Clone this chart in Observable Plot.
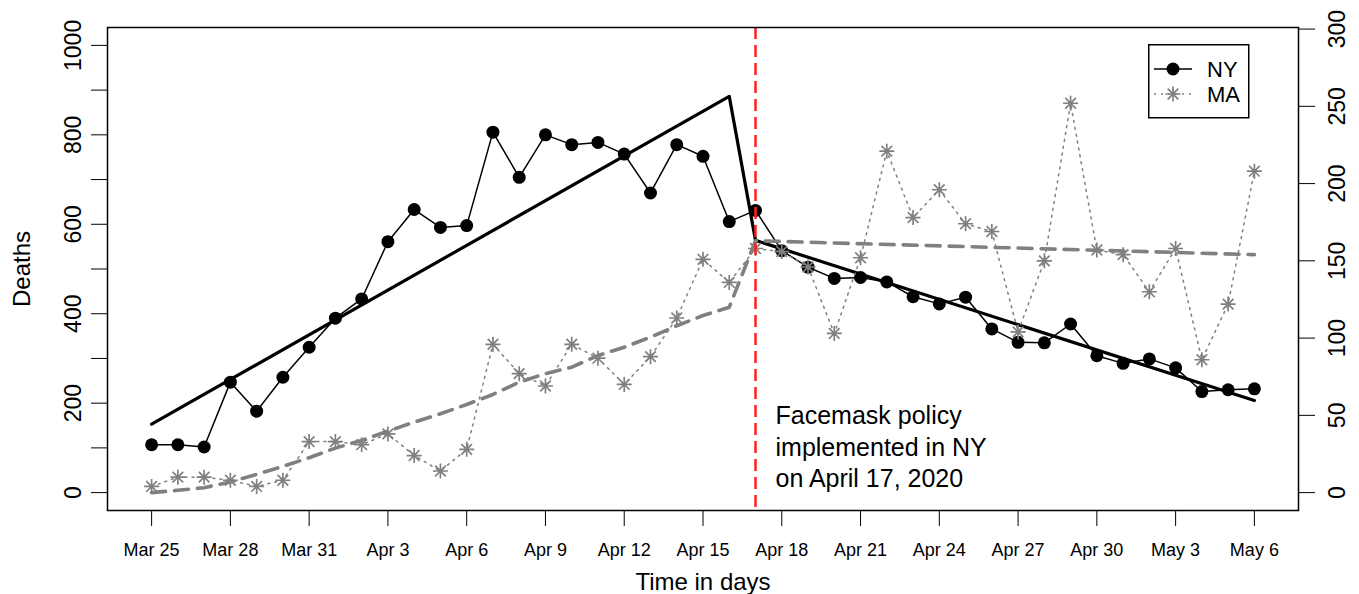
<!DOCTYPE html>
<html>
<head>
<meta charset="utf-8">
<script src="https://cdn.jsdelivr.net/npm/d3@7"></script>
<script src="https://cdn.jsdelivr.net/npm/@observablehq/plot@0.6"></script>
<style>
  body { margin: 0; background: #fff; }
  #wrap { position: relative; width: 1359px; height: 594px; font-family: "Liberation Sans", Arial, sans-serif; }
  #legend { position: absolute; left: 1148px; top: 44px; }
</style>
</head>
<body>
<div id="wrap"></div>
<script>
// ---- data ----
const startDate = "2020-03-25";           // day 0
const policyDay = 23;                     // April 17, 2020
const nyDeaths = [107,107,102,247,182,258,325,390,433,561,633,593,597,806,705,800,778,783,757,670,778,752,606,631,541,504,479,481,471,438,422,437,366,336,335,377,306,289,299,279,226,230,232];
const maDeaths = [4,10,10,8,4,8,33,33,31,38,24,14,28,96,77,69,96,87,70,88,113,151,136,158,156,146,103,152,221,178,196,174,169,104,150,252,157,154,130,158,86,122,208];
// fitted trends
const nyFitDays = [0, 22, 23, 42];
const nyFitValues = [153, 886, 564, 206];
const maFitPre = [0,1.5,3.2,6.9,11.8,17,22.6,28.8,33.8,39.8,45.6,51,57,63.5,71.5,77,81.2,88.7,94.1,100.6,108,114.6,120];
const maFitPostDays = [23, 42];
const maFitPostValues = [163, 154];
// axes
const xTickDays = [0,3,6,9,12,15,18,21,24,27,30,33,36,39,42];
const nyTicks = [0,100,200,300,400,500,600,700,800,900,1000];
const nyLabels = [0,200,400,600,800,1000];
const maTicks = [0,50,100,150,200,250,300];
const annotation = "Facemask policy\nimplemented in NY\non April 17, 2020";
const annotationY = 105;

// ---- helpers ----
const t0 = new Date(startDate + "T00:00:00Z");
const dayToDate = d => new Date(t0.getTime() + d * 864e5);
const k = 3.455; // MA units -> left-axis (NY) units, right axis scale
const nyRows = nyDeaths.map((v, i) => ({date: dayToDate(i), v}));
const maRows = maDeaths.map((v, i) => ({date: dayToDate(i), v: v * k}));
const nyFit = nyFitDays.map((d, i) => ({date: dayToDate(d), v: nyFitValues[i]}));
const maFit = maFitPre.map((v, i) => ({date: dayToDate(i), v: v * k}))
  .concat(maFitPostDays.map((d, i) => ({date: dayToDate(d), v: maFitPostValues[i] * k})));
const policyDate = dayToDate(policyDay);

const asterisk8 = {
  draw(ctx, size) {
    const r = Math.sqrt(size / Math.PI), d = r * Math.SQRT1_2;
    ctx.moveTo(-r, 0); ctx.lineTo(r, 0);
    ctx.moveTo(0, -r); ctx.lineTo(0, r);
    ctx.moveTo(-d, -d); ctx.lineTo(d, d);
    ctx.moveTo(-d, d); ctx.lineTo(d, -d);
  }
};

const gray = "#808080";
const chart = Plot.plot({
  width: 1359,
  height: 594,
  marginLeft: 107,
  marginRight: 61,
  marginTop: 27,
  marginBottom: 84,
  style: {fontFamily: "Liberation Sans, Arial, sans-serif", color: "#000", background: "#fff"},
  x: {type: "utc", domain: [dayToDate(-1.68), dayToDate(43.68)]},
  y: {domain: [-40, 1040]},
  marks: [
    Plot.axisX({ticks: xTickDays.map(dayToDate), tickFormat: d3.utcFormat("%b %-d"), tickSize: 16, tickPadding: 17, fontSize: 18, label: null}),
    Plot.axisY({ticks: nyTicks, tickSize: 16, tickFormat: () => "", label: null}),
    Plot.text(nyLabels, {y: d => d, text: d => String(d), frameAnchor: "left", dx: -34, rotate: -90, fontSize: 23, textAnchor: "middle", lineAnchor: "middle"}),
    Plot.axisY({anchor: "right", ticks: maTicks.map(v => v * k), tickSize: 16, tickFormat: () => "", label: null}),
    Plot.text(maTicks, {y: d => d * k, text: d => String(d), frameAnchor: "right", dx: 39, rotate: -90, fontSize: 23, textAnchor: "middle", lineAnchor: "middle"}),
    Plot.text(["Deaths"], {frameAnchor: "left", dx: -85, rotate: -90, fontSize: 24, textAnchor: "middle", lineAnchor: "middle"}),
    Plot.text(["Time in days"], {frameAnchor: "bottom", dy: 72, fontSize: 24, textAnchor: "middle", lineAnchor: "middle"}),
    // NY
    Plot.line(nyRows, {x: "date", y: "v", stroke: "#000", strokeWidth: 1.5}),
    Plot.dot(nyRows, {x: "date", y: "v", r: 6.5, fill: "#000", stroke: "none"}),
    Plot.line(nyFit, {x: "date", y: "v", stroke: "#000", strokeWidth: 3.2}),
    // MA
    Plot.line(maRows, {x: "date", y: "v", stroke: gray, strokeWidth: 1.5, strokeDasharray: "2,5"}),
    Plot.dot(maRows, {x: "date", y: "v", symbol: asterisk8, r: 7.5, stroke: gray, strokeWidth: 1.7, fill: "none"}),
    Plot.line(maFit, {x: "date", y: "v", stroke: gray, strokeWidth: 3.6, strokeDasharray: "14,9"}),
    // policy line and annotation
    Plot.ruleX([policyDate], {stroke: "#ff2020", strokeWidth: 2.5, strokeDasharray: "12,6"}),
    Plot.text([annotation], {x: () => policyDate, y: () => annotationY, text: d => d, dx: 20, textAnchor: "start", lineAnchor: "middle", fontSize: 25, lineHeight: 1.25}),
    Plot.frame({stroke: "#000", strokeWidth: 1.5})
  ]
});
document.getElementById("wrap").appendChild(chart);

// legend (inside the plot box, top right)
const legend = d3.select("#wrap").append("svg").attr("id", "legend")
  .attr("width", 102).attr("height", 75);
legend.append("rect").attr("x", 0.75).attr("y", 0.75).attr("width", 100).attr("height", 73)
  .attr("fill", "#fff").attr("stroke", "#000").attr("stroke-width", 1.5);
const items = [
  {name: "NY", y: 25, color: "#000", dash: null, sym: "dot"},
  {name: "MA", y: 50, color: gray, dash: "2,5", sym: "ast"}
];
for (const it of items) {
  legend.append("line").attr("x1", 6).attr("x2", 44).attr("y1", it.y).attr("y2", it.y)
    .attr("stroke", it.color).attr("stroke-width", 1.5).attr("stroke-dasharray", it.dash);
  if (it.sym === "dot") {
    legend.append("circle").attr("cx", 25).attr("cy", it.y).attr("r", 6.5).attr("fill", "#000");
  } else {
    legend.append("path").attr("transform", `translate(25,${it.y})`)
      .attr("d", d3.symbol(asterisk8, Math.PI * 56)()).attr("stroke", gray).attr("stroke-width", 1.7).attr("fill", "none");
  }
  legend.append("text").attr("x", 59).attr("y", it.y).attr("dy", "0.35em")
    .attr("font-size", 22).attr("font-family", "Liberation Sans, Arial, sans-serif").text(it.name);
}
</script>
</body>
</html>
